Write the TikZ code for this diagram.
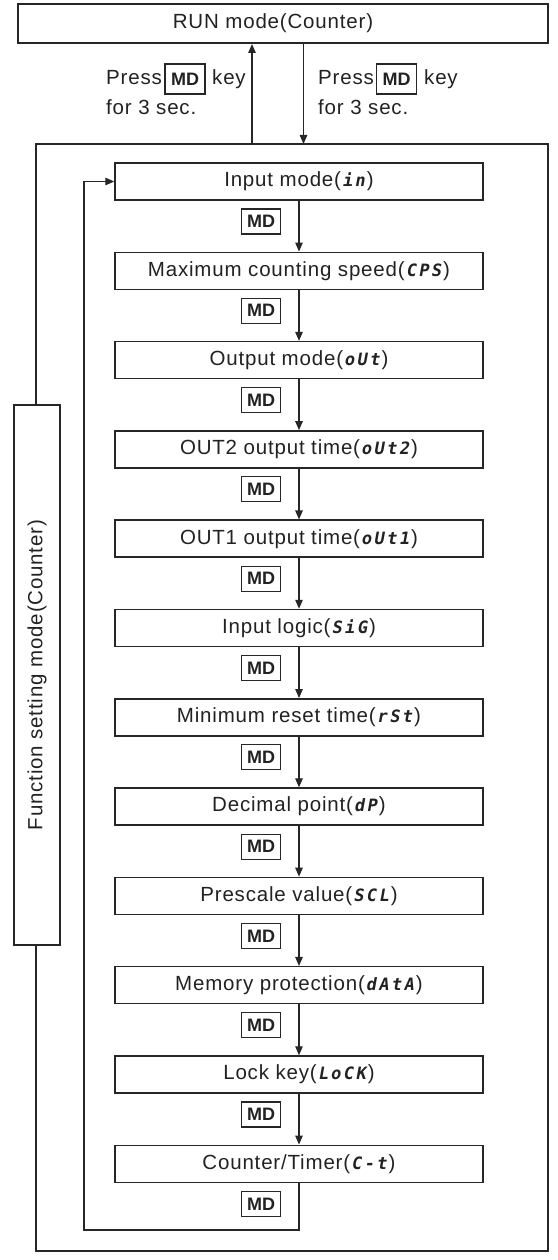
\documentclass[tikz,border=0pt]{standalone}
\usepackage{fontspec}
\setmainfont{Liberation Sans}[LetterSpace=4]
\newfontfamily\mdfam{Liberation Sans}
\newfontfamily\segfam{DejaVu Sans Mono Bold}[FakeSlant=0.18, LetterSpace=14]
\usetikzlibrary{arrows.meta}
\definecolor{linec}{HTML}{262626}
\definecolor{txtc}{HTML}{222222}
\newcommand{\seg}[1]{{\hspace{1pt}\segfam\fontsize{17}{17}\selectfont #1\hspace{2pt}}}
\newcommand{\txtsz}{\fontsize{20.5}{24}\selectfont}
\newcommand{\mdsz}{\mdfam\bfseries\fontsize{18}{18}\selectfont}
\begin{document}
\begin{tikzpicture}[x=1pt,y=1pt, font=\txtsz, text=txtc,
 stepbox/.style={draw=linec, line width=1.5pt, minimum width=368pt, minimum height=37pt, inner sep=0pt, fill=white},
 mdbox/.style={draw=linec, line width=1.1pt, font=\mdsz, minimum width=39pt, minimum height=25pt, inner sep=0pt, fill=white},
 mdbig/.style={mdbox, minimum width=40pt, minimum height=30pt},
 frame/.style={draw=linec, line width=2pt, inner sep=0pt},
 flow/.style={draw=linec, line width=1.2pt, -{Triangle[length=9pt,width=7.5pt]}},
 lbl/.style={anchor=base west, inner sep=0pt},
]
\useasboundingbox (0,0) rectangle (557,-1260);

% RUN mode box
\node[frame, minimum width=530pt, minimum height=39pt] (run) at (283,-23.5) {};
\node[inner sep=0pt] (runtxt) at (273,-23.5) {RUN mode(Counter)};

% outer function-setting frame
\node[frame, minimum width=512pt, minimum height=1107pt] (fsm) at (292,-697.5) {};

% transitions between RUN and function setting
\coordinate (upx) at (252,-144);
\coordinate (dnx) at (303.5,-144);
\draw[flow] (upx) -- (upx |- run.south);
\draw[flow] (dnx |- run.south) -- (dnx);

\node[lbl] (lp1) at (106,-85) {Press};
\node[mdbig] (lmd) at (185,-79) {MD};
\node[lbl] (lk1) at (212,-85) {key};
\node[lbl] (lp2) at (106,-115) {for 3 sec.};

\node[lbl] (rp1) at (318,-85) {Press};
\node[mdbig] (rmd) at (396.5,-79) {MD};
\node[lbl] (rk1) at (424,-85) {key};
\node[lbl] (rp2) at (318,-115) {for 3 sec.};

% side label box
\node[frame, fill=white, rotate=90, minimum width=540pt, minimum height=46pt] (side) at (37,-675) {Function setting mode(Counter)};

% steps
\foreach \i/\t in {
 1/{Input mode(\seg{in})},
 2/{Maximum counting speed(\seg{CPS})},
 3/{Output mode(\seg{oUt})},
 4/{OUT2 output time(\seg{oUt2})},
 5/{OUT1 output time(\seg{oUt1})},
 6/{Input logic(\seg{SiG})},
 7/{Minimum reset time(\seg{rSt})},
 8/{Decimal point(\seg{dP})},
 9/{Prescale value(\seg{SCL})},
 10/{Memory protection(\seg{dAtA})},
 11/{Lock key(\seg{LoCK})},
 12/{Counter/Timer(\seg{C-t})}}
 \node[stepbox] (b\i) at (299,{-(181.5+89.3*(\i-1))}) {\t};

\foreach \i in {1,...,12}
 \node[mdbox] (md\i) at (261.2,{-(221.5+89.3*(\i-1))}) {MD};

\foreach \i in {1,...,11}{
 \pgfmathtruncatemacro\j{\i+1}
 \draw[flow] (b\i.south) -- (b\j.north);
}

% loop back
\coordinate (lpB) at (84,-1230);
\draw[flow] (b12.south) |- (lpB) |- (b1.west);
\end{tikzpicture}
\end{document}
